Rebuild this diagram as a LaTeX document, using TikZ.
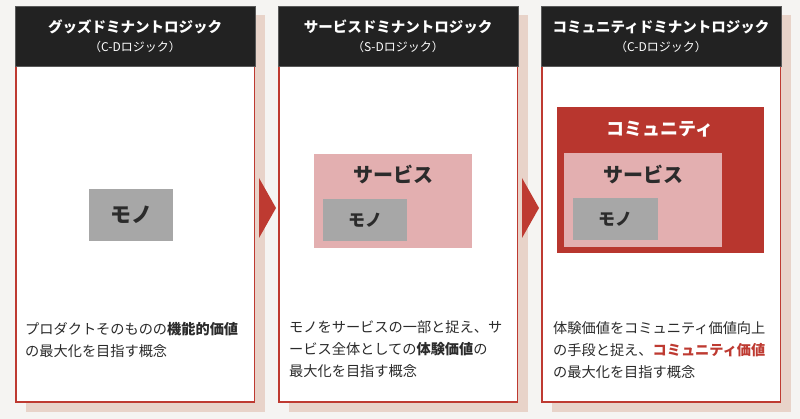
\documentclass[tikz,border=0pt]{standalone}
\usepackage{fontspec}
\setmainfont{Noto Sans CJK JP}
\usetikzlibrary{positioning}

\definecolor{bgcol}{HTML}{F5F4F2}
\definecolor{shadowcol}{HTML}{E8D3C9}
\definecolor{framered}{HTML}{BE3A31}
\definecolor{headblack}{HTML}{222222}
\definecolor{servicepink}{HTML}{E3AFB0}
\definecolor{monogray}{HTML}{A7A7A7}
\definecolor{communityred}{HTML}{B8362E}
\definecolor{textdark}{HTML}{2B2B2B}

\tikzset{
  panelshadow/.style={fill=shadowcol, draw=none},
  panelbody/.style={draw=framered, line width=1.3pt, fill=white},
  panelhead/.style={fill=headblack, draw=black!65, line width=0.8pt},
  headtitle/.style={text=white, font=\fontsize{14.5}{16}\selectfont\bfseries},
  headsub/.style={text=white, font=\fontsize{12}{14}\selectfont},
  monobox/.style={rectangle, fill=monogray, inner sep=0pt},
  servicebox/.style={rectangle, fill=servicepink, inner sep=0pt},
  communitybox/.style={rectangle, fill=communityred, inner sep=0pt},
  boxlabel/.style={text=textdark, font=\bfseries},
  bodytext/.style={anchor=north west, align=left, inner sep=0pt, text=textdark,
    font=\fontsize{14.2}{22}\selectfont},
  stagearrow/.style={fill=framered, draw=none}
}

\begin{document}
\begin{tikzpicture}[x=1pt, y=-1pt]

	%Background
	\fill[bgcol] (0,0) rectangle (800,419);
	\useasboundingbox (0,0) rectangle (800,419);

	%Shadows
	\fill[panelshadow] (25.5,15.5) rectangle (264.5,412);
	\fill[panelshadow] (288.5,15.5) rectangle (527.5,412);
	\fill[panelshadow] (551.5,15.5) rectangle (790.5,412);

	%Frames
	\draw[panelbody] (16,60) rectangle (254.5,402);
	\draw[panelbody] (279,60) rectangle (517.5,402);
	\draw[panelbody] (542,60) rectangle (780.5,402);

	%Headers
	\draw[panelhead] (15.5,6) rectangle (255,66);
	\node[headtitle] (title-g) at (135,27) {グッズドミナントロジック};
	\node[headsub] (sub-g) at (135,47) {（C-Dロジック）};

	\draw[panelhead] (278.5,6) rectangle (518,66);
	\node[headtitle] (title-s) at (398,27) {サービスドミナントロジック};
	\node[headsub] (sub-s) at (398,47) {（S-Dロジック）};

	\draw[panelhead] (541.5,6) rectangle (781,66);
	\node[headtitle] (title-c) at (661,27) {コミュニティドミナントロジック};
	\node[headsub] (sub-c) at (661,47) {（C-Dロジック）};

	%Arrows
	\fill[stagearrow] (259,178) -- (276,208) -- (259,238) -- cycle;
	\fill[stagearrow] (522,178) -- (539,208) -- (522,238) -- cycle;

	%Goods
	\node[monobox, minimum width=84pt, minimum height=52pt] (mono-g) at (131,215) {};
	\node[boxlabel, font=\fontsize{21}{24}\selectfont\bfseries] (mono-g-label) at (mono-g) {モノ};

	%Service
	\node[servicebox, minimum width=158pt, minimum height=94pt] (svc-s) at (393,201) {};
	\node[boxlabel, font=\fontsize{20}{24}\selectfont\bfseries] (svc-s-label) at ([yshift=-21pt]svc-s.north) {サービス};
	\node[monobox, minimum width=84pt, minimum height=42pt] (mono-s) at (365,220) {};
	\node[boxlabel, font=\fontsize{17}{20}\selectfont\bfseries] (mono-s-label) at (mono-s) {モノ};

	%Community
	\node[communitybox, minimum width=207pt, minimum height=146pt] (com-c) at (660,180.5) {};
	\node[text=white, font=\fontsize{18}{22}\selectfont\bfseries] (com-c-label) at ([yshift=-22pt]com-c.north) {コミュニティ};
	\node[servicebox, minimum width=158pt, minimum height=94pt] (svc-c) at (643,200) {};
	\node[boxlabel, font=\fontsize{20}{24}\selectfont\bfseries] (svc-c-label) at ([yshift=-22pt]svc-c.north) {サービス};
	\node[monobox, minimum width=85pt, minimum height=42pt] (mono-c) at (615,219) {};
	\node[boxlabel, font=\fontsize{17}{20}\selectfont\bfseries] (mono-c-label) at (mono-c) {モノ};

	%Descriptions
	\node[bodytext] (desc-g) at (25,322)
	  {プロダクトそのものの\textbf{機能的価値}\\の最大化を目指す概念};
	\node[bodytext] (desc-s) at (289,320)
	  {モノをサービスの一部と捉え、サ\\ービス全体としての\textbf{体験価値}の\\最大化を目指す概念};
	\node[bodytext] (desc-c) at (553,321)
	  {体験価値をコミュニティ価値向上\\の手段と捉え、\textcolor{framered}{\textbf{コミュニティ価値}}\\の最大化を目指す概念};

\end{tikzpicture}
\end{document}
